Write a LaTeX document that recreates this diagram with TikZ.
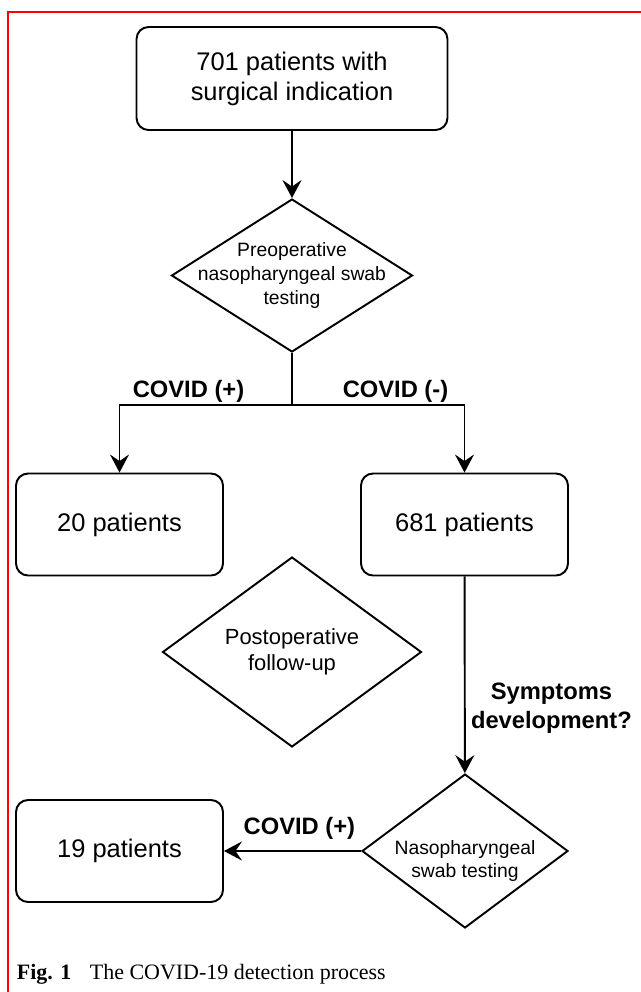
\documentclass[tikz,border=0pt]{standalone}
\usepackage{fontspec}
\setmainfont{Liberation Sans}
\newfontfamily\capfont{Liberation Serif}
\usetikzlibrary{shapes.geometric,arrows.meta}

\begin{document}
\begin{tikzpicture}[x=0.02cm, y=-0.02cm, line width=1.1pt,
  box/.style={draw, rounded corners=0.24cm, align=center, minimum width=4.14cm, minimum height=2.04cm, font=\fontsize{14.5}{17}\selectfont},
  decision/.style={draw, diamond, inner sep=0pt},
  inside/.style={align=center, font=\fontsize{11}{13.5}\selectfont},
  lbl/.style={font=\bfseries\fontsize{13.5}{17}\selectfont, inner sep=1pt},
  arr/.style={-{Stealth[length=3.6mm, width=3.8mm, inset=1.3mm]}}]
  \useasboundingbox (0,0) rectangle (641,992);
  \draw[red, line width=0.04cm] (8,992) -- (8,12) -- (641,12);
  % boxes
  \node[box, minimum width=6.22cm, minimum height=2.06cm] (top) at (292,78.5) {701 patients with\\surgical indication};
  \node[box] (p20) at (119.5,524.5) {20 patients};
  \node[box] (p681) at (464.5,524.5) {681 patients};
  \node[box] (p19) at (119.5,851) {19 patients};
  % decisions
  \node[decision, minimum width=4.82cm, minimum height=3.06cm, label={[inside]center:{Preoperative\\nasopharyngeal swab\\testing}}] (pre) at (292,275.5) {};
  \node[decision, minimum width=5.18cm, minimum height=3.8cm, label={[inside, font=\fontsize{12.5}{15}\selectfont]center:{Postoperative\\follow-up}}] (post) at (292,652) {};
  \node[decision, minimum width=4.12cm, minimum height=3.08cm, label={[inside, yshift=-0.2cm]center:{Nasopharyngeal\\swab testing}}] (swab) at (465,851) {};
  % connectors
  \coordinate (split) at (292,405);
  \draw[arr] (top) -- (pre);
  \draw (pre) -- (split);
  \draw[arr] (split) -| node[lbl, pos=0.3, above] {COVID (+)} (p20);
  \draw[arr] (split) -| node[lbl, pos=0.3, above] {COVID (-)} (p681);
  \draw[arr] (p681) -- node[lbl, pos=0.67, right=2pt, align=center] {Symptoms\\development?} (swab);
  \draw[arr] (swab) -- node[lbl, pos=0.45, above=5pt] {COVID (+)} (p19);
  % caption
  \node[anchor=base west, inner sep=0pt, font=\capfont\fontsize{12.5}{15}\selectfont] (cap) at (16,979) {\textbf{Fig. 1}\hspace{0.85em}The COVID-19 detection process};
\end{tikzpicture}
\end{document}
